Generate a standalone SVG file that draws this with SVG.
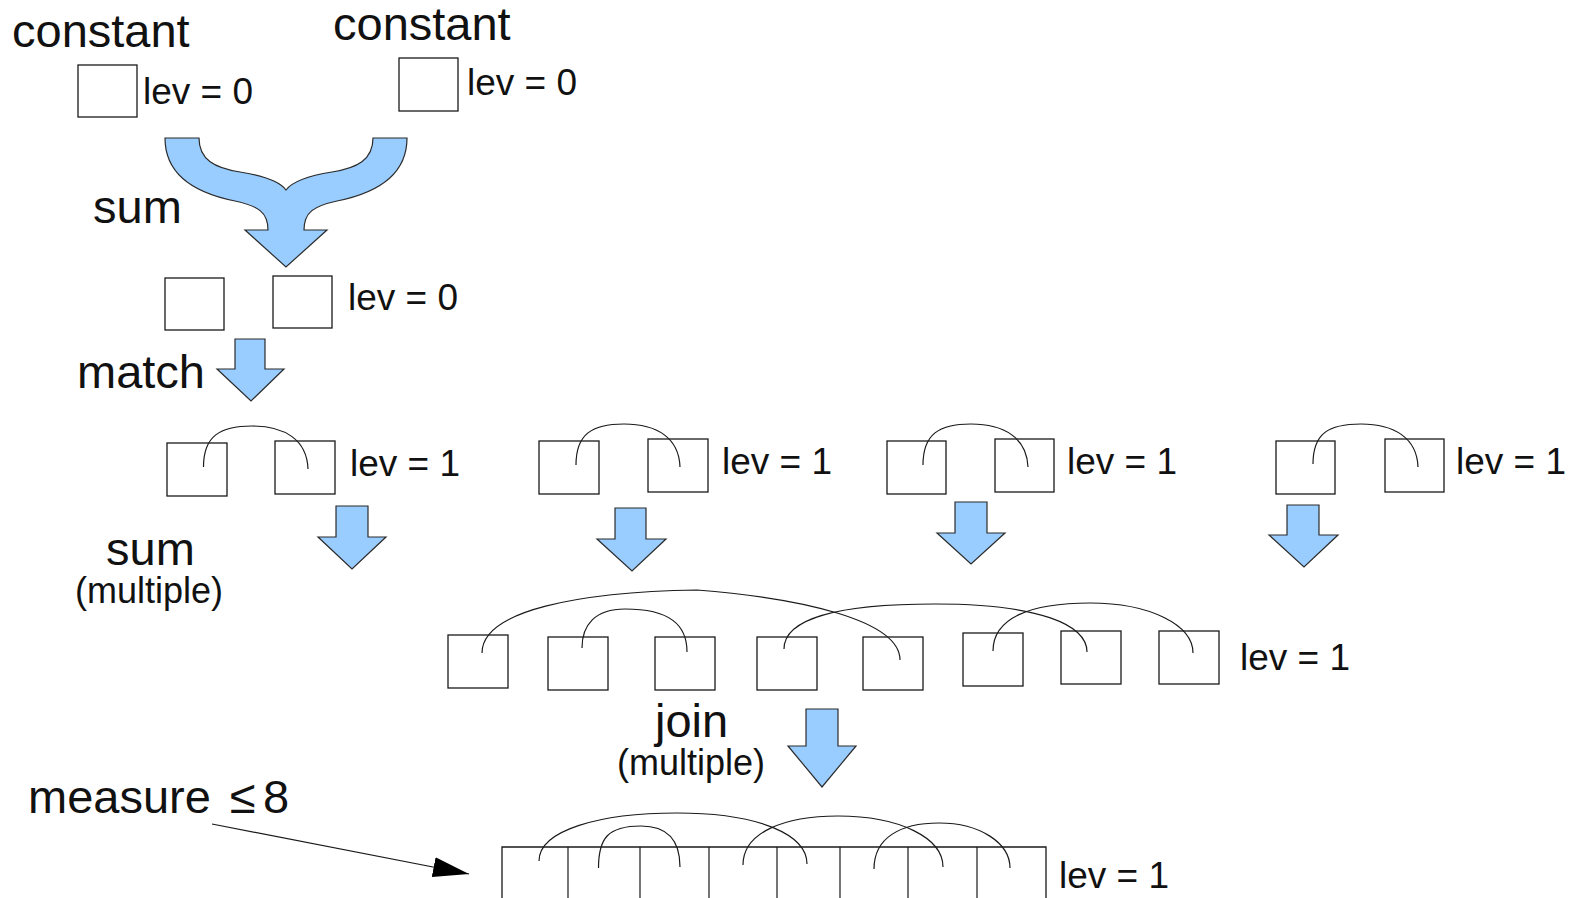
<svg xmlns="http://www.w3.org/2000/svg" width="1570" height="898" viewBox="0 0 1570 898">
  <style>
    .box { fill: #ffffff; stroke: #1a1a1a; stroke-width: 1.3; }
    .blk { fill: #99ccff; stroke: #2b2b2b; stroke-width: 1.2; stroke-linejoin: miter; }
    .link { fill: none; stroke: #1a1a1a; stroke-width: 1.2; }
    .big { font-family: "Liberation Sans", Arial, sans-serif; font-size: 47px; fill: #111111; }
    .lev { font-family: "Liberation Sans", Arial, sans-serif; font-size: 37px; fill: #111111; }
    .sub { font-family: "Liberation Sans", Arial, sans-serif; font-size: 36px; fill: #111111; }
  </style>
  <defs>
    <marker id="tip" viewBox="0 0 36 20" refX="36" refY="10" markerWidth="36" markerHeight="20" markerUnits="userSpaceOnUse" orient="auto">
      <path d="M0,0 L36,10 L0,20 Z" fill="#000000"/>
    </marker>
  </defs>
  <rect width="1570" height="898" fill="#ffffff"/>

  <!-- level 0: two constants -->
  <g id="const-a">
    <text class="big" x="12" y="47">constant</text>
    <rect class="box" x="78" y="65" width="59" height="52"/>
    <text class="lev" x="143" y="104">lev = 0</text>
  </g>
  <g id="const-b">
    <text class="big" x="333" y="40">constant</text>
    <rect class="box" x="399" y="58" width="59" height="53"/>
    <text class="lev" x="467" y="95">lev = 0</text>
  </g>

  <!-- sum step (merging arrow) -->
  <g id="sum-step">
    <path class="blk" d="M165,138 H199 C199,160 215,168 240,172 C265,176 280,182 286,190 C292,182 307,176 332,172 C357,168 373,160 373,138 H407 C407,175 377,193 337,201 C314,206 304,212 304,230 H327 L286,267 L245,230 H268 C268,212 258,206 235,201 C195,193 165,175 165,138 Z"/>
    <text class="big" x="93" y="223">sum</text>
  </g>

  <!-- summed pair -->
  <g id="pair-lev0">
    <rect class="box" x="165" y="278" width="59" height="52"/>
    <rect class="box" x="273" y="276" width="59" height="52"/>
    <text class="lev" x="348" y="310">lev = 0</text>
  </g>

  <!-- match step -->
  <g id="match-step">
    <text class="big" x="77" y="388">match</text>
    <path class="blk" d="M235,339 H265 V369 H284 L251,401 L217,369 H235 Z"/>
  </g>

  <!-- matched pairs, level 1 -->
  <g id="pair-1">
    <rect class="box" x="167" y="443" width="60" height="53"/>
    <rect class="box" x="275" y="441" width="60" height="53"/>
    <text class="lev" x="350" y="476">lev = 1</text>
  </g>
  <g id="pair-2">
    <rect class="box" x="539" y="441" width="60" height="53"/>
    <rect class="box" x="648" y="439" width="60" height="53"/>
    <text class="lev" x="722" y="474">lev = 1</text>
  </g>
  <g id="pair-3">
    <rect class="box" x="887" y="441" width="59" height="53"/>
    <rect class="box" x="995" y="439" width="59" height="53"/>
    <text class="lev" x="1067" y="474">lev = 1</text>
  </g>
  <g id="pair-4">
    <rect class="box" x="1276" y="441" width="59" height="53"/>
    <rect class="box" x="1385" y="439" width="59" height="53"/>
    <text class="lev" x="1456" y="474">lev = 1</text>
  </g>

  <!-- multiple sum step -->
  <g id="sum-multi">
    <text class="big" x="106" y="565">sum</text>
    <text class="sub" x="75" y="603">(multiple)</text>
    <path class="blk" d="M336,506 H368 V537 H386 L352,569 L318,537 H336 Z"/>
    <path class="blk" d="M615,508 H646 V539 H666 L632,571 L597,539 H615 Z"/>
    <path class="blk" d="M955,502 H987 V533 H1005 L971,564 L937,533 H955 Z"/>
    <path class="blk" d="M1287,505 H1319 V535 H1338 L1304,567 L1269,535 H1287 Z"/>
  </g>

  <!-- row of eight level 1 cells -->
  <g id="row-8">
    <rect class="box" x="448" y="635" width="60" height="53"/>
    <rect class="box" x="548" y="637" width="60" height="53"/>
    <rect class="box" x="655" y="637" width="60" height="53"/>
    <rect class="box" x="757" y="637" width="60" height="53"/>
    <rect class="box" x="863" y="637" width="60" height="53"/>
    <rect class="box" x="963" y="633" width="60" height="53"/>
    <rect class="box" x="1061" y="631" width="60" height="53"/>
    <rect class="box" x="1159" y="631" width="60" height="53"/>
    <text class="lev" x="1240" y="670">lev = 1</text>
  </g>

  <!-- join step -->
  <g id="join-step">
    <text class="big" x="655" y="737">join</text>
    <text class="sub" x="617" y="775">(multiple)</text>
    <path class="blk" d="M806,709 H838 V746 H856 L822,787 L788,746 H806 Z"/>
  </g>

  <!-- joined block -->
  <g id="joined">
    <path class="box" d="M502,900 V847 H1046 V900"/>
    <path class="link" d="M568,847 V900 M640,847 V900 M709,847 V900 M777,847 V900 M840,847 V900 M908,847 V900 M977,847 V900"/>
    <text class="lev" x="1059" y="888">lev = 1</text>
  </g>

  <g id="measure">
    <text class="big" x="28" y="813">measure <tspan x="230">≤</tspan><tspan x="263">8</tspan></text>
  </g>

  <!-- connectors: pairing arcs and the pointer -->
  <g id="connectors">
    <path class="link" d="M203.5,467 C203.5,436 220,426 252,426 C285,426 307,440 308,469"/>
    <path class="link" d="M576,465 C576,434 592,424 624,424 C657,424 679,438 680,467"/>
    <path class="link" d="M923,465 C923,434 939,424 971,424 C1004,424 1027,438 1028,467"/>
    <path class="link" d="M1313,464 C1313,433 1329,424 1361,424 C1394,424 1417,438 1418,467"/>

    <path class="link" d="M482,653 C482,610 580,592 697,590 C800,598 900,620 900,660"/>
    <path class="link" d="M582,648 C582,625 595,609 625,609 C670,609 687,625 687,652"/>
    <path class="link" d="M784,649 C784,618 840,604 935,604 C1040,604 1087,625 1087,652"/>
    <path class="link" d="M993,651 C993,618 1030,603 1090,603 C1150,603 1193,625 1193,653"/>

    <path class="link" d="M539,861 C539,830 600,813 677,813 C760,813 807,835 807,864"/>
    <path class="link" d="M598.5,868 C598.5,838 608,826 641,826 C672,826 680,845 680,867"/>
    <path class="link" d="M743,865 C743,832 785,816 838,816 C900,816 943,838 943,867"/>
    <path class="link" d="M874,869 C874,838 900,823 939,823 C980,823 1010,843 1010,868"/>

    <path class="link" d="M212,824 L469,874" marker-end="url(#tip)"/>
  </g>
</svg>
